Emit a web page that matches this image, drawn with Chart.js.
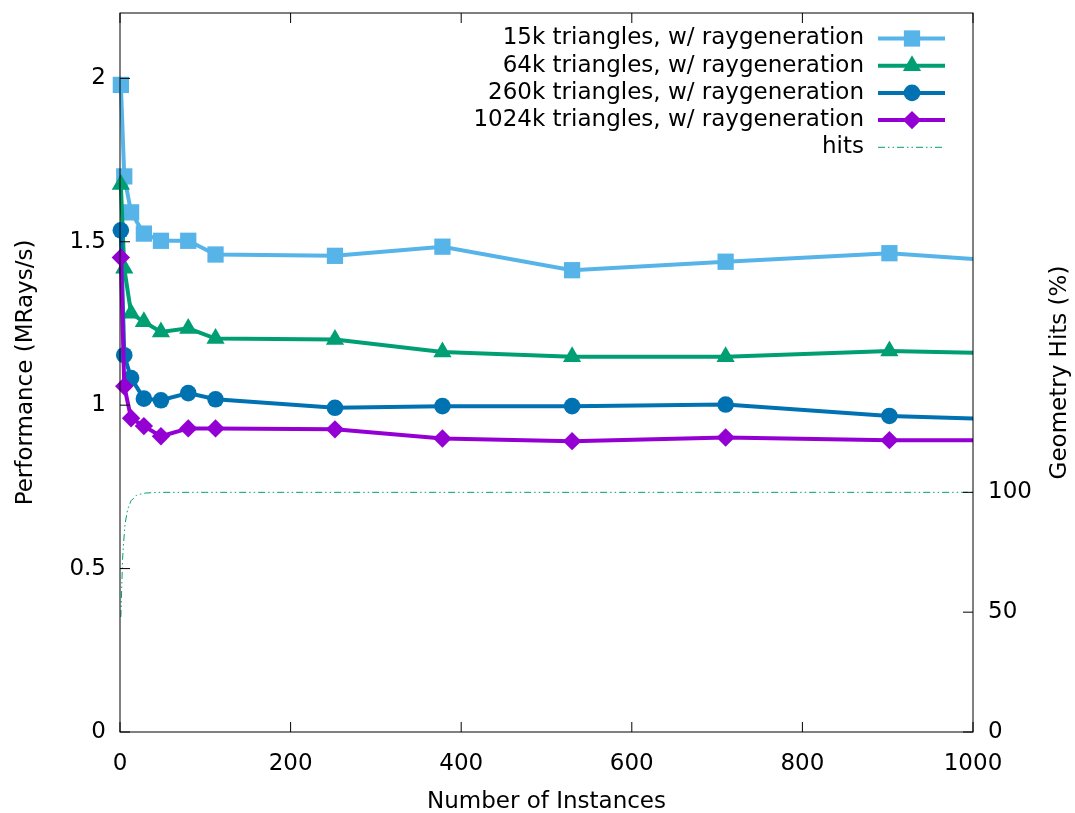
<!DOCTYPE html>
<html>
<head>
<meta charset="utf-8">
<title>Performance vs. number of instances</title>
<script src="https://cdn.jsdelivr.net/npm/chart.js@4.4.1/dist/chart.umd.min.js"></script>
<style>
  body { margin: 0; background: #fff; }
</style>
</head>
<body>
<canvas id="myChart" width="1075" height="813"></canvas>
<script>
// instance counts, the last one lies past the right edge of the plot
let instances = [1, 5, 13, 28, 48, 80, 112, 252, 378, 530, 710, 902, 1120];

// MRays/s per mesh size
let tri15k   = [1.98, 1.70, 1.59, 1.525, 1.503, 1.503, 1.461, 1.457, 1.485, 1.413, 1.439, 1.465, 1.425];
let tri64k   = [1.675, 1.419, 1.281, 1.255, 1.224, 1.235, 1.204, 1.201, 1.163, 1.148, 1.148, 1.166, 1.153];
let tri260k  = [1.535, 1.153, 1.083, 1.02, 1.015, 1.037, 1.018, 0.992, 0.997, 0.997, 1.002, 0.967, 0.949];
let tri1024k = [1.452, 1.058, 0.960, 0.936, 0.905, 0.929, 0.929, 0.926, 0.898, 0.890, 0.901, 0.893, 0.893];

// geometry hits in percent (sampled more densely)
let hitsInstances = [1, 2, 3, 4, 6, 9, 13, 20, 30, 45, 100, 1000];
let hits = [48, 60, 72, 78, 87, 93, 96.5, 99, 99.7, 100, 100, 100];

let instanceTicks = [0, 200, 400, 600, 800, 1000];
let perfTicks = [0, 0.5, 1, 1.5, 2];
let hitsTicks = [0, 50, 100];

const FONT = '"DejaVu Sans"';
Chart.defaults.font.family = FONT;
Chart.defaults.font.size = 23;
Chart.defaults.color = '#000';

function pts(xs, ys) {
    return xs.map((x, i) => ({x: x, y: ys[i]}));
}

// plain numbers, no grouping or padded decimals
function plain(value) {
    return String(value);
}

function series(label, color, style, radius, values, order) {
    return {
        label: label,
        data: pts(instances, values),
        borderColor: color,
        backgroundColor: color,
        borderWidth: 4,
        pointStyle: style,
        pointRadius: radius,
        pointBorderWidth: 0,
        pointBackgroundColor: color,
        tension: 0,
        order: order,
        clip: {left: 15, top: 15, right: 0, bottom: 0}
    };
}

// border box, inward ticks, right-hand title and the key
const frame = {
    id: 'frame',
    afterDraw(chart) {
        const ctx = chart.ctx;
        const a = chart.chartArea;
        const sx = chart.scales.x, sy = chart.scales.y, sy2 = chart.scales.y2;
        ctx.save();
        ctx.strokeStyle = '#000';
        ctx.lineWidth = 1;
        ctx.beginPath();
        instanceTicks.forEach(v => {
            const px = sx.getPixelForValue(v);
            ctx.moveTo(px, a.bottom); ctx.lineTo(px, a.bottom - 10);
            ctx.moveTo(px, a.top); ctx.lineTo(px, a.top + 10);
        });
        perfTicks.forEach(v => {
            const py = sy.getPixelForValue(v);
            ctx.moveTo(a.left, py); ctx.lineTo(a.left + 10, py);
        });
        hitsTicks.forEach(v => {
            const py = sy2.getPixelForValue(v);
            ctx.moveTo(a.right, py); ctx.lineTo(a.right - 10, py);
        });
        ctx.stroke();
        ctx.strokeRect(a.left, a.top, a.right - a.left, a.bottom - a.top);

        ctx.fillStyle = '#000';
        ctx.font = '23px ' + FONT;
        ctx.textAlign = 'center';
        ctx.textBaseline = 'middle';
        ctx.save();
        ctx.translate(a.right + 87, (a.top + a.bottom) / 2);
        ctx.rotate(-Math.PI / 2);
        ctx.fillText('Geometry Hits (%)', 0, 0);
        ctx.restore();

        ctx.textAlign = 'right';
        chart.data.datasets.forEach((ds, i) => {
            const y = a.top + 25.5 + i * 27.2;
            ctx.fillStyle = '#000';
            ctx.fillText(ds.label, a.right - 109, y);
            ctx.strokeStyle = ds.borderColor;
            ctx.lineWidth = ds.borderWidth;
            ctx.setLineDash(ds.borderDash || []);
            ctx.beginPath();
            ctx.moveTo(a.right - 95, y);
            ctx.lineTo(a.right - 28, y);
            ctx.stroke();
            ctx.setLineDash([]);
            if (ds.pointRadius > 0) {
                ctx.fillStyle = ds.backgroundColor;
                Chart.helpers.drawPoint(ctx, {pointStyle: ds.pointStyle, radius: ds.pointRadius, borderWidth: 0}, a.right - 61, y);
            }
        });
        ctx.restore();
    }
};

var ctx = document.getElementById('myChart').getContext('2d');
var chart = new Chart(ctx, {
    type: 'line',
    data: {
        datasets: [
            series('15k triangles, w/ raygeneration', '#56b4e9', 'rect', 11.5, tri15k, 5),
            series('64k triangles, w/ raygeneration', '#009e73', 'triangle', 10.5, tri64k, 4),
            series('260k triangles, w/ raygeneration', '#0072b2', 'circle', 8.3, tri260k, 3),
            series('1024k triangles, w/ raygeneration', '#9400d3', 'rectRot', 9.2, tri1024k, 2),
            {
                label: 'hits',
                data: pts(hitsInstances, hits),
                yAxisID: 'y2',
                borderColor: '#009e73',
                borderWidth: 1,
                borderDash: [7, 3, 1.5, 3, 1.5, 3],
                pointRadius: 0,
                tension: 0,
                order: 1,
                clip: {left: 15, top: 0, right: 0, bottom: 0}
            }
        ]
    },
    options: {
        responsive: false,
        animation: false,
        devicePixelRatio: 1,
        layout: {padding: {top: 13, left: 0, right: 0, bottom: 0}},
        plugins: {legend: {display: false}, tooltip: {enabled: false}},
        scales: {
            x: {
                type: 'linear',
                min: 0,
                max: 1000,
                grid: {display: false, drawTicks: false},
                border: {display: false},
                ticks: {padding: 18, maxRotation: 0, callback: plain},
                afterBuildTicks: s => { s.ticks = instanceTicks.map(v => ({value: v})); },
                title: {display: true, text: 'Number of Instances', padding: {top: 0, bottom: -3}},
                afterFit: s => { s.height = 81; s.paddingLeft = 0; s.paddingRight = 0; }
            },
            y: {
                position: 'left',
                min: 0,
                max: 2.2,
                grid: {display: false, drawTicks: false},
                border: {display: false},
                ticks: {padding: 14, callback: plain},
                afterBuildTicks: s => { s.ticks = perfTicks.map(v => ({value: v})); },
                title: {display: true, text: 'Performance (MRays/s)', padding: {top: 12, bottom: 0}},
                afterFit: s => { s.width = 120; s.paddingTop = 0; s.paddingBottom = 0; }
            },
            y2: {
                position: 'right',
                min: 0,
                max: 300,
                grid: {display: false, drawTicks: false},
                border: {display: false},
                ticks: {padding: 15, callback: plain},
                afterBuildTicks: s => { s.ticks = hitsTicks.map(v => ({value: v})); },
                afterFit: s => { s.width = 102; s.paddingTop = 0; s.paddingBottom = 0; }
            }
        }
    },
    plugins: [frame]
});
</script>
</body>
</html>
